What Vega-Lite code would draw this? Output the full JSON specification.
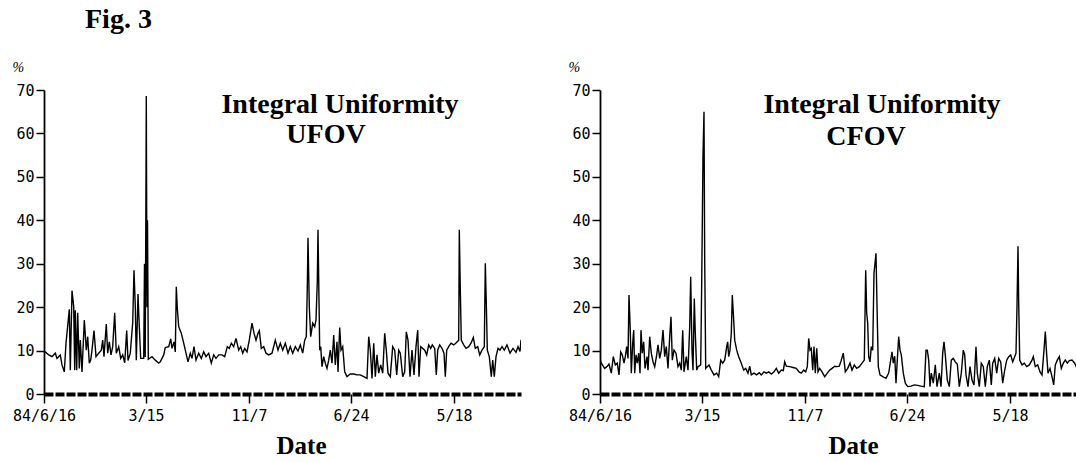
{
  "$schema": "https://vega.github.io/schema/vega-lite/v6.json",
  "padding": {"left": 12, "top": 6, "right": 0, "bottom": 0},
  "background": "white",
  "title": {"text": "Fig. 3", "anchor": "start", "dx": 73, "font": "Liberation Serif", "fontSize": 28, "fontWeight": "bold", "color": "black", "offset": 26},
  "spacing": 47,
  "datasets": {
    "ufov": [
      {"sample":0,"uniformity":9.8},{"sample":1.3,"uniformity":9.7},{"sample":4.7,"uniformity":9.0},{"sample":8,"uniformity":8.6},{"sample":11.3,"uniformity":9.4},{"sample":13,"uniformity":8.2},{"sample":16.3,"uniformity":9.0},{"sample":18,"uniformity":6.7},{"sample":20.3,"uniformity":5.1},{"sample":22,"uniformity":11.7},{"sample":25.3,"uniformity":19.5},{"sample":26.3,"uniformity":5.5},{"sample":28,"uniformity":23.8},{"sample":29.7,"uniformity":20.1},{"sample":30.7,"uniformity":5.5},{"sample":31.3,"uniformity":19.3},{"sample":32.7,"uniformity":5.5},{"sample":33.7,"uniformity":18.7},{"sample":35.3,"uniformity":5.9},{"sample":36.3,"uniformity":12.4},{"sample":38,"uniformity":5.1},{"sample":40.3,"uniformity":17.0},{"sample":42.3,"uniformity":10.1},{"sample":43.7,"uniformity":13.2},{"sample":45.3,"uniformity":7.1},{"sample":46.7,"uniformity":7.8},{"sample":48,"uniformity":10.1},{"sample":50,"uniformity":14.6},{"sample":52,"uniformity":8.6},{"sample":54.7,"uniformity":9.4},{"sample":57.3,"uniformity":10.1},{"sample":58.7,"uniformity":12.4},{"sample":60,"uniformity":8.6},{"sample":62.3,"uniformity":16.1},{"sample":63.7,"uniformity":9.4},{"sample":65.3,"uniformity":12.0},{"sample":67,"uniformity":9.0},{"sample":68.7,"uniformity":10.9},{"sample":70.7,"uniformity":18.7},{"sample":72.3,"uniformity":9.4},{"sample":74.7,"uniformity":10.9},{"sample":76.7,"uniformity":8.2},{"sample":78.7,"uniformity":9.0},{"sample":80.7,"uniformity":7.2},{"sample":82.7,"uniformity":14.6},{"sample":84,"uniformity":7.7},{"sample":86.3,"uniformity":9.4},{"sample":88.7,"uniformity":16.4},{"sample":90,"uniformity":28.5},{"sample":91.3,"uniformity":20.1},{"sample":92.3,"uniformity":7.8},{"sample":94,"uniformity":23.0},{"sample":95.3,"uniformity":15.5},{"sample":96.7,"uniformity":8.2},{"sample":99.7,"uniformity":8.2},{"sample":100.5,"uniformity":30.0},{"sample":101.2,"uniformity":8.5},{"sample":101.8,"uniformity":38.5},{"sample":102.3,"uniformity":68.6},{"sample":103,"uniformity":20.0},{"sample":103.5,"uniformity":40.0},{"sample":104.3,"uniformity":8.0},{"sample":108,"uniformity":8.6},{"sample":111.3,"uniformity":7.8},{"sample":114.7,"uniformity":7.1},{"sample":116.3,"uniformity":7.4},{"sample":119.7,"uniformity":9.0},{"sample":121.3,"uniformity":10.7},{"sample":124.7,"uniformity":10.9},{"sample":126.7,"uniformity":12.7},{"sample":128,"uniformity":10.5},{"sample":130,"uniformity":12.0},{"sample":131.3,"uniformity":9.7},{"sample":132.3,"uniformity":24.7},{"sample":133.3,"uniformity":19.7},{"sample":134.7,"uniformity":15.5},{"sample":137.3,"uniformity":14.0},{"sample":139.7,"uniformity":11.7},{"sample":142,"uniformity":9.4},{"sample":144,"uniformity":7.4},{"sample":146.3,"uniformity":9.4},{"sample":148,"uniformity":8.2},{"sample":150,"uniformity":10.9},{"sample":152,"uniformity":7.8},{"sample":154.7,"uniformity":9.4},{"sample":157.3,"uniformity":8.2},{"sample":159.7,"uniformity":9.7},{"sample":162,"uniformity":8.6},{"sample":164.7,"uniformity":9.4},{"sample":167.3,"uniformity":7.1},{"sample":169.7,"uniformity":9.0},{"sample":172,"uniformity":8.2},{"sample":174.7,"uniformity":9.0},{"sample":178,"uniformity":9.0},{"sample":180.7,"uniformity":8.6},{"sample":183.3,"uniformity":10.9},{"sample":185.3,"uniformity":10.5},{"sample":187.3,"uniformity":11.7},{"sample":189.7,"uniformity":10.9},{"sample":192,"uniformity":12.8},{"sample":194.7,"uniformity":10.1},{"sample":196.7,"uniformity":10.9},{"sample":198.7,"uniformity":9.4},{"sample":200.7,"uniformity":10.5},{"sample":203,"uniformity":9.7},{"sample":205.3,"uniformity":12.4},{"sample":208,"uniformity":16.3},{"sample":210,"uniformity":14.0},{"sample":212,"uniformity":12.4},{"sample":214,"uniformity":14.0},{"sample":215.3,"uniformity":14.6},{"sample":217.3,"uniformity":10.5},{"sample":219.7,"uniformity":10.9},{"sample":222,"uniformity":9.4},{"sample":224.7,"uniformity":9.0},{"sample":228,"uniformity":9.4},{"sample":231.3,"uniformity":12.4},{"sample":234,"uniformity":10.1},{"sample":236.3,"uniformity":11.7},{"sample":238.7,"uniformity":10.1},{"sample":241.3,"uniformity":11.7},{"sample":244,"uniformity":9.4},{"sample":246.3,"uniformity":10.9},{"sample":248.7,"uniformity":9.4},{"sample":251.3,"uniformity":10.9},{"sample":254,"uniformity":9.9},{"sample":256.3,"uniformity":11.3},{"sample":258.7,"uniformity":9.4},{"sample":260.7,"uniformity":12.4},{"sample":262.3,"uniformity":13.2},{"sample":263.3,"uniformity":24.7},{"sample":264,"uniformity":36.0},{"sample":265.3,"uniformity":20.1},{"sample":266.7,"uniformity":13.2},{"sample":268.7,"uniformity":16.3},{"sample":270.7,"uniformity":15.5},{"sample":272,"uniformity":17.0},{"sample":273.3,"uniformity":25.9},{"sample":274,"uniformity":37.8},{"sample":275.7,"uniformity":10.1},{"sample":276.7,"uniformity":10.9},{"sample":278,"uniformity":6.3},{"sample":279.7,"uniformity":8.6},{"sample":281.3,"uniformity":7.1},{"sample":283,"uniformity":5.9},{"sample":284.7,"uniformity":7.8},{"sample":286.3,"uniformity":10.1},{"sample":288,"uniformity":7.1},{"sample":289.7,"uniformity":13.6},{"sample":291.3,"uniformity":6.7},{"sample":293,"uniformity":12.0},{"sample":294,"uniformity":5.1},{"sample":295.7,"uniformity":15.3},{"sample":297,"uniformity":10.1},{"sample":298.7,"uniformity":10.9},{"sample":300.7,"uniformity":5.1},{"sample":303,"uniformity":4.0},{"sample":306.3,"uniformity":4.6},{"sample":309.7,"uniformity":4.6},{"sample":313,"uniformity":4.4},{"sample":316.3,"uniformity":4.4},{"sample":319.7,"uniformity":4.0},{"sample":323,"uniformity":3.6},{"sample":324.7,"uniformity":13.2},{"sample":326.3,"uniformity":10.1},{"sample":328,"uniformity":3.6},{"sample":329.7,"uniformity":11.7},{"sample":331.3,"uniformity":4.0},{"sample":333,"uniformity":9.0},{"sample":334.7,"uniformity":4.8},{"sample":336.7,"uniformity":6.7},{"sample":338.7,"uniformity":4.8},{"sample":340.7,"uniformity":14.0},{"sample":342.3,"uniformity":10.1},{"sample":344,"uniformity":4.8},{"sample":346.3,"uniformity":4.0},{"sample":348.7,"uniformity":10.9},{"sample":350.7,"uniformity":10.1},{"sample":352.7,"uniformity":4.4},{"sample":354.7,"uniformity":10.1},{"sample":356.3,"uniformity":9.4},{"sample":358.7,"uniformity":4.0},{"sample":360.7,"uniformity":5.1},{"sample":362.3,"uniformity":14.3},{"sample":364,"uniformity":12.4},{"sample":366,"uniformity":4.0},{"sample":368,"uniformity":10.1},{"sample":370,"uniformity":4.4},{"sample":372,"uniformity":10.9},{"sample":373.7,"uniformity":14.7},{"sample":375,"uniformity":4.0},{"sample":376.7,"uniformity":10.9},{"sample":378.7,"uniformity":10.5},{"sample":380.7,"uniformity":10.1},{"sample":382.7,"uniformity":9.0},{"sample":384.7,"uniformity":11.3},{"sample":386.7,"uniformity":10.5},{"sample":388.3,"uniformity":11.3},{"sample":390.7,"uniformity":10.5},{"sample":392.3,"uniformity":4.4},{"sample":393.7,"uniformity":10.1},{"sample":395.7,"uniformity":11.3},{"sample":398,"uniformity":10.5},{"sample":400,"uniformity":9.4},{"sample":401.3,"uniformity":4.0},{"sample":402.7,"uniformity":10.1},{"sample":404.7,"uniformity":10.9},{"sample":407,"uniformity":11.7},{"sample":409.7,"uniformity":11.3},{"sample":411.7,"uniformity":11.7},{"sample":413,"uniformity":12.0},{"sample":414.7,"uniformity":12.4},{"sample":415.3,"uniformity":37.8},{"sample":416.3,"uniformity":24.0},{"sample":417.3,"uniformity":12.4},{"sample":419.7,"uniformity":11.3},{"sample":422,"uniformity":10.5},{"sample":424.7,"uniformity":10.9},{"sample":427,"uniformity":11.7},{"sample":429.3,"uniformity":13.0},{"sample":431.3,"uniformity":10.5},{"sample":433.7,"uniformity":10.9},{"sample":435.7,"uniformity":9.0},{"sample":438,"uniformity":10.1},{"sample":440.3,"uniformity":10.9},{"sample":441.3,"uniformity":30.1},{"sample":442.3,"uniformity":20.9},{"sample":443.3,"uniformity":10.1},{"sample":445.3,"uniformity":8.6},{"sample":447.3,"uniformity":4.0},{"sample":448.7,"uniformity":7.8},{"sample":450.3,"uniformity":4.0},{"sample":452,"uniformity":8.6},{"sample":454,"uniformity":10.5},{"sample":456,"uniformity":10.1},{"sample":458,"uniformity":10.9},{"sample":460.3,"uniformity":10.1},{"sample":463,"uniformity":11.3},{"sample":466,"uniformity":9.4},{"sample":469,"uniformity":10.5},{"sample":472,"uniformity":9.6},{"sample":474,"uniformity":10.9},{"sample":476,"uniformity":9.8},{"sample":477,"uniformity":12.5}
    ],
    "cfov": [
      {"sample":0,"uniformity":8.0},{"sample":1.3,"uniformity":7.1},{"sample":4.7,"uniformity":5.9},{"sample":7.3,"uniformity":6.4},{"sample":9,"uniformity":6.9},{"sample":11.3,"uniformity":4.8},{"sample":13.3,"uniformity":8.6},{"sample":15.3,"uniformity":6.7},{"sample":17.3,"uniformity":7.1},{"sample":19,"uniformity":4.4},{"sample":20.7,"uniformity":9.7},{"sample":22.3,"uniformity":9.0},{"sample":24,"uniformity":7.1},{"sample":25.3,"uniformity":8.6},{"sample":26.7,"uniformity":10.9},{"sample":28,"uniformity":8.2},{"sample":29,"uniformity":22.8},{"sample":30.3,"uniformity":14.4},{"sample":31.3,"uniformity":4.8},{"sample":32.7,"uniformity":11.7},{"sample":33.7,"uniformity":14.7},{"sample":34.7,"uniformity":4.8},{"sample":36,"uniformity":9.0},{"sample":37.3,"uniformity":7.1},{"sample":38.7,"uniformity":9.4},{"sample":40,"uniformity":4.8},{"sample":41,"uniformity":14.7},{"sample":42.3,"uniformity":9.4},{"sample":43.7,"uniformity":12.0},{"sample":45,"uniformity":5.9},{"sample":47,"uniformity":8.6},{"sample":48,"uniformity":5.5},{"sample":49.7,"uniformity":13.2},{"sample":51.3,"uniformity":9.4},{"sample":53,"uniformity":7.4},{"sample":54.7,"uniformity":6.3},{"sample":56.7,"uniformity":9.0},{"sample":58,"uniformity":11.3},{"sample":59.7,"uniformity":8.2},{"sample":61.3,"uniformity":10.1},{"sample":63,"uniformity":14.7},{"sample":64.7,"uniformity":8.6},{"sample":66.3,"uniformity":10.9},{"sample":68,"uniformity":5.9},{"sample":69.7,"uniformity":13.2},{"sample":71,"uniformity":17.8},{"sample":72.3,"uniformity":7.8},{"sample":74,"uniformity":10.1},{"sample":76,"uniformity":9.4},{"sample":78,"uniformity":6.3},{"sample":79.7,"uniformity":7.1},{"sample":81.3,"uniformity":5.5},{"sample":82.7,"uniformity":14.7},{"sample":84,"uniformity":5.1},{"sample":86.3,"uniformity":8.6},{"sample":88,"uniformity":5.5},{"sample":89.7,"uniformity":15.5},{"sample":90.7,"uniformity":27.0},{"sample":92,"uniformity":10.1},{"sample":93,"uniformity":5.5},{"sample":94.3,"uniformity":22.0},{"sample":95.3,"uniformity":14.0},{"sample":96.7,"uniformity":5.5},{"sample":98,"uniformity":6.3},{"sample":100.7,"uniformity":6.7},{"sample":101.7,"uniformity":25.5},{"sample":103,"uniformity":55.0},{"sample":104,"uniformity":65.0},{"sample":104.7,"uniformity":30.9},{"sample":105.7,"uniformity":5.9},{"sample":107.3,"uniformity":6.3},{"sample":109,"uniformity":6.7},{"sample":111.3,"uniformity":5.5},{"sample":114,"uniformity":4.4},{"sample":116.7,"uniformity":4.8},{"sample":118.7,"uniformity":4.0},{"sample":120.7,"uniformity":7.8},{"sample":122.7,"uniformity":7.1},{"sample":124.7,"uniformity":7.8},{"sample":126.7,"uniformity":10.9},{"sample":127.7,"uniformity":12.0},{"sample":128.7,"uniformity":8.6},{"sample":130,"uniformity":10.1},{"sample":131.3,"uniformity":14.0},{"sample":132.3,"uniformity":22.8},{"sample":133.7,"uniformity":17.0},{"sample":134.7,"uniformity":12.4},{"sample":136.7,"uniformity":10.1},{"sample":138.7,"uniformity":8.6},{"sample":141.3,"uniformity":7.1},{"sample":143.7,"uniformity":5.5},{"sample":145.7,"uniformity":5.9},{"sample":148,"uniformity":4.8},{"sample":149.7,"uniformity":6.4},{"sample":151.3,"uniformity":4.4},{"sample":154,"uniformity":4.8},{"sample":156.7,"uniformity":4.4},{"sample":159.3,"uniformity":4.9},{"sample":161.3,"uniformity":4.4},{"sample":164,"uniformity":5.1},{"sample":166.3,"uniformity":4.8},{"sample":168.7,"uniformity":5.1},{"sample":171.3,"uniformity":4.6},{"sample":174,"uniformity":5.1},{"sample":176.3,"uniformity":5.9},{"sample":178.7,"uniformity":4.8},{"sample":181.3,"uniformity":5.5},{"sample":183.3,"uniformity":5.4},{"sample":184.7,"uniformity":7.4},{"sample":186.3,"uniformity":6.4},{"sample":189.7,"uniformity":6.3},{"sample":193,"uniformity":6.1},{"sample":196.3,"uniformity":5.9},{"sample":199,"uniformity":5.1},{"sample":201.3,"uniformity":4.8},{"sample":203.7,"uniformity":5.5},{"sample":205.7,"uniformity":5.1},{"sample":207.3,"uniformity":6.3},{"sample":208.7,"uniformity":12.8},{"sample":210,"uniformity":10.1},{"sample":211.3,"uniformity":10.5},{"sample":212.7,"uniformity":5.5},{"sample":214,"uniformity":10.9},{"sample":215.3,"uniformity":4.8},{"sample":216.7,"uniformity":10.5},{"sample":218,"uniformity":5.1},{"sample":219.7,"uniformity":5.9},{"sample":222,"uniformity":5.1},{"sample":224.7,"uniformity":4.0},{"sample":227.3,"uniformity":4.8},{"sample":229.7,"uniformity":5.5},{"sample":232,"uniformity":5.9},{"sample":234.7,"uniformity":6.4},{"sample":237.3,"uniformity":6.3},{"sample":239.3,"uniformity":6.4},{"sample":241.3,"uniformity":7.8},{"sample":243.3,"uniformity":9.4},{"sample":245.3,"uniformity":5.1},{"sample":247.7,"uniformity":5.9},{"sample":250,"uniformity":7.1},{"sample":252,"uniformity":5.5},{"sample":254.3,"uniformity":6.7},{"sample":256.7,"uniformity":5.9},{"sample":259.3,"uniformity":6.3},{"sample":262,"uniformity":7.1},{"sample":264.3,"uniformity":7.8},{"sample":265.7,"uniformity":28.5},{"sample":266.7,"uniformity":18.6},{"sample":267.7,"uniformity":16.3},{"sample":268.7,"uniformity":8.6},{"sample":270,"uniformity":7.4},{"sample":271.3,"uniformity":10.9},{"sample":272.7,"uniformity":10.1},{"sample":274,"uniformity":27.8},{"sample":276,"uniformity":32.4},{"sample":277,"uniformity":20.5},{"sample":278.3,"uniformity":6.3},{"sample":280,"uniformity":4.4},{"sample":282.7,"uniformity":4.0},{"sample":286,"uniformity":3.6},{"sample":288.7,"uniformity":4.8},{"sample":290.7,"uniformity":7.8},{"sample":292,"uniformity":9.7},{"sample":293.3,"uniformity":7.1},{"sample":294.7,"uniformity":8.7},{"sample":296,"uniformity":2.5},{"sample":297.3,"uniformity":7.8},{"sample":298.7,"uniformity":13.2},{"sample":300,"uniformity":10.1},{"sample":301.3,"uniformity":9.0},{"sample":303.3,"uniformity":4.8},{"sample":305.3,"uniformity":2.5},{"sample":307.7,"uniformity":1.7},{"sample":311,"uniformity":1.8},{"sample":314.3,"uniformity":2.1},{"sample":317.7,"uniformity":2.0},{"sample":321,"uniformity":1.8},{"sample":324.3,"uniformity":1.7},{"sample":326,"uniformity":10.1},{"sample":327.3,"uniformity":10.1},{"sample":328.7,"uniformity":7.8},{"sample":330,"uniformity":1.7},{"sample":331.3,"uniformity":4.8},{"sample":333.3,"uniformity":2.5},{"sample":335.3,"uniformity":6.7},{"sample":337,"uniformity":1.7},{"sample":339.3,"uniformity":4.8},{"sample":341,"uniformity":1.7},{"sample":342.7,"uniformity":9.4},{"sample":344,"uniformity":12.0},{"sample":345.3,"uniformity":9.0},{"sample":347.3,"uniformity":3.2},{"sample":349.3,"uniformity":1.7},{"sample":351.3,"uniformity":7.8},{"sample":353.3,"uniformity":8.2},{"sample":355.3,"uniformity":7.4},{"sample":357.3,"uniformity":6.9},{"sample":359.3,"uniformity":1.7},{"sample":361.3,"uniformity":4.8},{"sample":363.3,"uniformity":10.1},{"sample":364.7,"uniformity":9.0},{"sample":366,"uniformity":4.4},{"sample":368,"uniformity":1.7},{"sample":370,"uniformity":6.3},{"sample":372,"uniformity":3.2},{"sample":374,"uniformity":2.1},{"sample":376,"uniformity":10.9},{"sample":377.3,"uniformity":4.8},{"sample":379.3,"uniformity":1.7},{"sample":381.3,"uniformity":7.1},{"sample":383.3,"uniformity":6.3},{"sample":385.3,"uniformity":1.7},{"sample":387.3,"uniformity":6.3},{"sample":389.3,"uniformity":7.8},{"sample":391.3,"uniformity":2.1},{"sample":392.7,"uniformity":7.1},{"sample":394.7,"uniformity":8.2},{"sample":396.7,"uniformity":4.8},{"sample":398.7,"uniformity":8.2},{"sample":400.7,"uniformity":7.4},{"sample":402.7,"uniformity":2.5},{"sample":404.7,"uniformity":5.5},{"sample":406.7,"uniformity":7.8},{"sample":408.7,"uniformity":8.6},{"sample":410.7,"uniformity":9.0},{"sample":412.7,"uniformity":7.4},{"sample":414.7,"uniformity":8.6},{"sample":416,"uniformity":9.4},{"sample":417,"uniformity":20.1},{"sample":418,"uniformity":34.0},{"sample":418.7,"uniformity":20.9},{"sample":419.7,"uniformity":7.8},{"sample":422,"uniformity":6.7},{"sample":424.3,"uniformity":7.1},{"sample":426.7,"uniformity":6.3},{"sample":429.3,"uniformity":6.7},{"sample":432,"uniformity":7.8},{"sample":433.3,"uniformity":8.6},{"sample":435.3,"uniformity":6.3},{"sample":437.7,"uniformity":6.7},{"sample":440,"uniformity":5.1},{"sample":442,"uniformity":4.4},{"sample":444,"uniformity":10.1},{"sample":445.3,"uniformity":14.4},{"sample":446.7,"uniformity":9.0},{"sample":448,"uniformity":4.8},{"sample":450,"uniformity":5.9},{"sample":452,"uniformity":4.0},{"sample":453.7,"uniformity":2.1},{"sample":455.3,"uniformity":6.7},{"sample":457.3,"uniformity":7.8},{"sample":459.3,"uniformity":8.6},{"sample":461.3,"uniformity":5.9},{"sample":463.3,"uniformity":7.1},{"sample":465.3,"uniformity":7.8},{"sample":467.3,"uniformity":7.1},{"sample":469.3,"uniformity":7.7},{"sample":472,"uniformity":7.8},{"sample":474.7,"uniformity":7.1},{"sample":477,"uniformity":5.9}
    ]
  },
  "hconcat": [
    {
      "width": 477,
      "height": 304,
      "layer": [
        {
          "data": {"name": "ufov"},
          "mark": {"type": "line", "color": "black", "strokeWidth": 1.4, "clip": true},
          "encoding": {
            "x": {"field": "sample", "type": "quantitative", "scale": {"domain": [0, 477], "nice": false, "zero": false},
              "axis": {"values": [0, 102, 205, 307, 410], "labelExpr": "datum.value == 0 ? '84/6/16' : datum.value == 102 ? '3/15' : datum.value == 205 ? '11/7' : datum.value == 307 ? '6/24' : '5/18'",
                "title": "Date", "titleFont": "Liberation Serif", "titleFontSize": 25, "titleFontWeight": "bold", "titleColor": "black", "titleX": 257, "titleY": 59, "titleBaseline": "alphabetic", "titleAlign": "center",
                "labelFont": "DejaVu Sans Mono", "labelFontSize": 15, "labelColor": "black", "labelFlush": false, "labelOverlap": false, "labelPadding": 5,
                "tickSize": 9, "tickColor": "black", "tickWidth": 1.5, "domainColor": "black", "domainWidth": 4, "domainDash": [9, 2], "grid": false}},
            "y": {"field": "uniformity", "type": "quantitative", "scale": {"domain": [0, 70], "nice": false},
              "axis": {"values": [0, 10, 20, 30, 40, 50, 60, 70], "title": "%", "titleAngle": 0, "titleX": -32, "titleY": -19, "titleAlign": "left", "titleBaseline": "alphabetic",
                "titleFont": "Liberation Serif", "titleFontStyle": "italic", "titleFontWeight": "normal", "titleFontSize": 14, "titleColor": "black",
                "labelFont": "DejaVu Sans Mono", "labelFontSize": 15, "labelColor": "black", "labelPadding": 2,
                "tickSize": 8, "tickColor": "black", "tickWidth": 1.5, "domainColor": "black", "domainWidth": 1.8, "grid": false}}
          }
        },
        {
          "data": {"values": [{}]},
          "mark": {"type": "text", "font": "Liberation Serif", "fontSize": 28, "fontWeight": "bold", "color": "black", "align": "center", "baseline": "alphabetic"},
          "encoding": {"x": {"datum": 296, "type": "quantitative"}, "y": {"datum": 64.7, "type": "quantitative"}, "text": {"value": "Integral Uniformity"}}
        },
        {
          "data": {"values": [{}]},
          "mark": {"type": "text", "font": "Liberation Serif", "fontSize": 28, "fontWeight": "bold", "color": "black", "align": "center", "baseline": "alphabetic"},
          "encoding": {"x": {"datum": 282, "type": "quantitative"}, "y": {"datum": 57.8, "type": "quantitative"}, "text": {"value": "UFOV"}}
        }
      ]
    },
    {
      "width": 477,
      "height": 304,
      "layer": [
        {
          "data": {"name": "cfov"},
          "mark": {"type": "line", "color": "black", "strokeWidth": 1.4, "clip": true},
          "encoding": {
            "x": {"field": "sample", "type": "quantitative", "scale": {"domain": [0, 477], "nice": false, "zero": false},
              "axis": {"values": [0, 102, 205, 307, 410], "labelExpr": "datum.value == 0 ? '84/6/16' : datum.value == 102 ? '3/15' : datum.value == 205 ? '11/7' : datum.value == 307 ? '6/24' : '5/18'",
                "title": "Date", "titleFont": "Liberation Serif", "titleFontSize": 25, "titleFontWeight": "bold", "titleColor": "black", "titleX": 253, "titleY": 59, "titleBaseline": "alphabetic", "titleAlign": "center",
                "labelFont": "DejaVu Sans Mono", "labelFontSize": 15, "labelColor": "black", "labelFlush": false, "labelOverlap": false, "labelPadding": 5,
                "tickSize": 9, "tickColor": "black", "tickWidth": 1.5, "domainColor": "black", "domainWidth": 4, "domainDash": [9, 2], "grid": false}},
            "y": {"field": "uniformity", "type": "quantitative", "scale": {"domain": [0, 70], "nice": false},
              "axis": {"values": [0, 10, 20, 30, 40, 50, 60, 70], "title": "%", "titleAngle": 0, "titleX": -32, "titleY": -19, "titleAlign": "left", "titleBaseline": "alphabetic",
                "titleFont": "Liberation Serif", "titleFontStyle": "italic", "titleFontWeight": "normal", "titleFontSize": 14, "titleColor": "black",
                "labelFont": "DejaVu Sans Mono", "labelFontSize": 15, "labelColor": "black", "labelPadding": 2,
                "tickSize": 8, "tickColor": "black", "tickWidth": 1.5, "domainColor": "black", "domainWidth": 1.8, "grid": false}}
          }
        },
        {
          "data": {"values": [{}]},
          "mark": {"type": "text", "font": "Liberation Serif", "fontSize": 28, "fontWeight": "bold", "color": "black", "align": "center", "baseline": "alphabetic"},
          "encoding": {"x": {"datum": 282, "type": "quantitative"}, "y": {"datum": 64.7, "type": "quantitative"}, "text": {"value": "Integral Uniformity"}}
        },
        {
          "data": {"values": [{}]},
          "mark": {"type": "text", "font": "Liberation Serif", "fontSize": 28, "fontWeight": "bold", "color": "black", "align": "center", "baseline": "alphabetic"},
          "encoding": {"x": {"datum": 266, "type": "quantitative"}, "y": {"datum": 57.4, "type": "quantitative"}, "text": {"value": "CFOV"}}
        }
      ]
    }
  ],
  "config": {"view": {"stroke": null}, "axis": {"grid": false}}
}
